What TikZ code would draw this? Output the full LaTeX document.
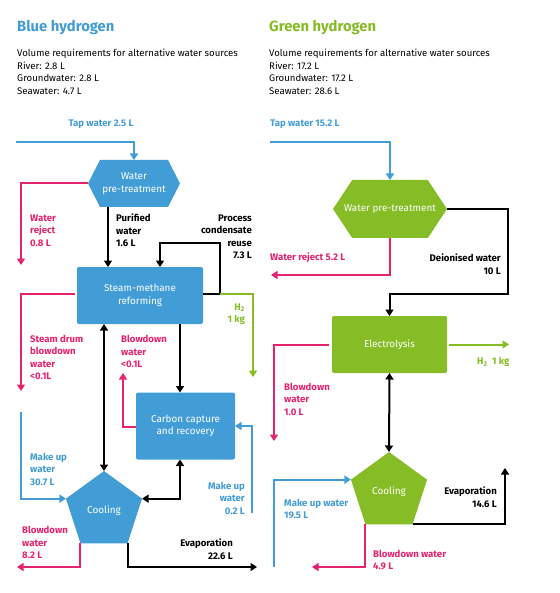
\documentclass[tikz,border=0pt]{standalone}
\usepackage{fontspec}
\setmainfont{Fira Sans}
\usetikzlibrary{arrows.meta,shapes.geometric,shapes.symbols}
\definecolor{hblue}{RGB}{66,157,215}
\definecolor{hgreen}{RGB}{134,188,37}
\definecolor{hpink}{RGB}{230,35,110}

\begin{document}
\begin{tikzpicture}[x=1pt,y=-1pt,
    flow/.style={line width=2pt,-{Triangle[width=8pt,length=6.5pt]}},
    dflow/.style={line width=2pt,{Triangle[width=8pt,length=6.5pt]}-{Triangle[width=8pt,length=6.5pt]}},
    blueflow/.style={flow,draw=hblue},
    pinkflow/.style={flow,draw=hpink},
    greenflow/.style={flow,draw=hgreen},
    title/.style={inner sep=0pt,font=\fontsize{14.8}{16}\selectfont\bfseries},
    sub/.style={inner sep=0pt,align=left,font=\fontsize{9.6}{12.5}\selectfont},
    lbl/.style={inner sep=0pt,font=\fontsize{9.6}{12.5}\selectfont\bfseries},
    boxtext/.style={text=white,inner sep=0pt,outer sep=0pt,align=center,font=\fontsize{9.9}{12.5}\selectfont},
    procbox/.style={boxtext,rectangle,rounded corners=2pt},
    hexa/.style={boxtext,signal,signal to=east and west},
    penta/.style={boxtext,regular polygon,regular polygon sides=5,minimum size=80pt}]
    \fill[white] (0,0) rectangle (559,593);
    \useasboundingbox (0,0) rectangle (559,593);

    \node[title,text=hblue,anchor=base west] (btitle) at (17,32) {Blue hydrogen};
    \node[sub,anchor=west] (bsub) at (17,72) {Volume requirements for alternative water sources\\River: 2.8 L\\Groundwater: 2.8 L\\Seawater: 4.7 L};
    \node[title,text=hgreen,anchor=base west] (gtitle) at (269,32) {Green hydrogen};
    \node[sub,anchor=west] (gsub) at (269,72) {Volume requirements for alternative water sources\\River: 17.2 L\\Groundwater: 17.2 L\\Seawater: 28.6 L};

    \node[hexa,fill=hblue,minimum width=92pt,minimum height=47pt,signal pointer angle=126] (bpre) at (134,183.5) {Water\\pre-treatment};
    \node[procbox,fill=hblue,minimum width=126pt,minimum height=57pt] (bsmr) at (140,295.5) {Steam-methane\\reforming};
    \node[procbox,fill=hblue,minimum width=99pt,minimum height=67pt] (bccr) at (185.5,426) {Carbon capture\\and recovery};
    \node[penta,fill=hblue] (bcool) at (104,511) {Cooling};

    \node[hexa,fill=hgreen,minimum width=114pt,minimum height=58pt,signal pointer angle=113] (gpre) at (390,209) {};
    \node[boxtext] (gpretext) at (gpre.center) {Water pre-treatment};
    \node[procbox,fill=hgreen,minimum width=115pt,minimum height=57pt] (gele) at (389.5,344.5) {Electrolysis};
    \node[penta,fill=hgreen] (gcool) at (389,492) {Cooling};

    \coordinate (btap) at (16,142);
    \coordinate (brej) at (21,265);
    \coordinate (bh2) at (253,377);
    \coordinate (bsteam) at (21,391);
    \coordinate (bblow) at (123,373);
    \coordinate (bmk1) at (21,412);
    \coordinate (bmk2) at (252,513);
    \coordinate (bbd) at (17,567);
    \coordinate (bevap) at (257,567);

    \draw[blueflow] (btap) -| (bpre.north);
    \draw[pinkflow] (bpre.west) -| (brej);
    \draw[flow] ([xshift=-26pt]bpre.south) -- ([xshift=-32pt]bsmr.north);
    \draw[flow] ([yshift=1.5pt]bsmr.east) -| (220,243) -| ([xshift=20pt]bsmr.north);
    \draw[greenflow] ([xshift=17pt,yshift=1.5pt]bsmr.east) -| (bh2);
    \draw[pinkflow] ([xshift=-2pt,yshift=1.5pt]bsmr.west) -| (bsteam);
    \draw[pinkflow] ([yshift=-1pt]bccr.west) -| (bblow);
    \draw[flow] ([xshift=40pt]bsmr.south) -- ([xshift=-5.5pt]bccr.north);
    \draw[dflow] ([xshift=-36pt]bsmr.south) -- (bcool.corner 1);
    \draw[dflow] ([xshift=-5.5pt]bccr.south) |- (bcool.corner 5);
    \draw[blueflow] (bmk1) |- (bcool.corner 2);
    \draw[blueflow] (bmk2) |- (bccr.east);
    \draw[pinkflow] (bcool.corner 3) |- (bbd);
    \draw[flow] (bcool.corner 4) |- (bevap);

    \node[lbl,text=hblue] (ltap) at (101,124) {Tap water 2.5 L};
    \node[lbl,text=hpink,align=left,anchor=west] (lrej) at (30,230.5) {Water\\reject\\0.8 L};
    \node[lbl,align=left,anchor=west] (lpur) at (116,230.5) {Purified\\water\\1.6 L};
    \node[lbl,align=right,anchor=east] (lcond) at (252,237) {Process\\condensate\\reuse\\7.3 L};
    \node[lbl,text=hgreen,align=right,anchor=east] (lh2) at (245,314) {H\textsubscript{2}\\1 kg};
    \node[lbl,text=hpink,align=left,anchor=west] (lsteam) at (30,357.5) {Steam drum\\blowdown\\water\\<0.1L};
    \node[lbl,text=hpink,align=left,anchor=west] (lblow) at (121,351.5) {Blowdown\\water\\<0.1L};
    \node[lbl,text=hblue,align=left,anchor=west] (lmk1) at (30,469) {Make up\\water\\30.7 L};
    \node[lbl,text=hblue,align=right,anchor=east] (lmk2) at (245,498) {Make up\\water\\0.2 L};
    \node[lbl,text=hpink,align=left,anchor=west] (lbd) at (22,542.5) {Blowdown\\water\\8.2 L};
    \node[lbl,align=right,anchor=east] (levap) at (233,549) {Evaporation\\22.6 L};

    \coordinate (gtap) at (270,142);
    \coordinate (grej) at (271,275);
    \coordinate (gh2) at (509,344.5);
    \coordinate (gbd1) at (274,441);
    \coordinate (gmk) at (274,567);
    \coordinate (gevap) at (505,468);
    \coordinate (gbd2) at (312,567);

    \draw[blueflow] (gtap) -| (gpre.north);
    \draw[flow] (gpre.east) -| (508,294) -| (gele.north);
    \draw[pinkflow] (gpre.south) |- (grej);
    \draw[greenflow] ([xshift=2pt]gele.east) -- (gh2);
    \draw[pinkflow] ([xshift=-3pt]gele.west) -| (gbd1);
    \draw[dflow] (gele.south) -- (gcool.corner 1);
    \draw[blueflow] (gmk) |- (gcool.corner 2);
    \draw[flow] (gcool.corner 4) -| (gevap);
    \draw[pinkflow] (gcool.corner 3) |- (gbd2);

    \node[lbl,text=hblue,anchor=west] (rtap) at (270,124) {Tap water 15.2 L};
    \node[lbl,align=right,anchor=east] (rdei) at (501,264) {Deionised water\\10 L};
    \node[lbl,text=hpink,anchor=west] (rrej) at (270,258) {Water reject 5.2 L};
    \node[lbl,text=hgreen,anchor=west] (rh2) at (477,362) {H\textsubscript{2}\ \ 1 kg};
    \node[lbl,text=hpink,align=left,anchor=west] (rbd1) at (284,399) {Blowdown\\water\\1.0 L};
    \node[lbl,text=hblue,align=left,anchor=west] (rmk) at (284,509) {Make up water\\19.5 L};
    \node[lbl,align=right,anchor=east] (revap) at (497,497) {Evaporation\\14.6 L};
    \node[lbl,text=hpink,align=left,anchor=west] (rbd2) at (373,560) {Blowdown water\\4.9 L};
\end{tikzpicture}
\end{document}
